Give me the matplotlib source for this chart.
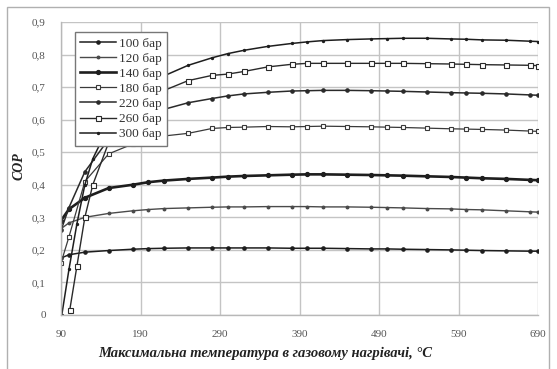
import matplotlib
matplotlib.use("Agg")
import matplotlib.pyplot as plt
from matplotlib.patches import Rectangle

T_main = [90, 100, 120, 150, 180, 200, 220, 250, 280, 300, 320, 350, 380, 400,
          420, 450, 480, 500, 520, 550, 580, 600, 620, 650, 680, 690]

cop_100 = [0.175, 0.185, 0.193, 0.198, 0.202, 0.204, 0.205, 0.206, 0.206, 0.206,
           0.206, 0.206, 0.205, 0.205, 0.205, 0.204, 0.203, 0.203, 0.202, 0.201,
           0.200, 0.199, 0.198, 0.197, 0.196, 0.196]
cop_120 = [0.265, 0.283, 0.300, 0.312, 0.320, 0.324, 0.327, 0.329, 0.331, 0.332,
           0.332, 0.333, 0.333, 0.333, 0.332, 0.332, 0.331, 0.330, 0.329, 0.327,
           0.326, 0.324, 0.323, 0.320, 0.317, 0.316]
cop_140 = [0.290, 0.325, 0.360, 0.390, 0.400, 0.408, 0.413, 0.418, 0.422, 0.425,
           0.427, 0.429, 0.431, 0.432, 0.432, 0.431, 0.430, 0.429, 0.428, 0.426,
           0.424, 0.422, 0.420, 0.418, 0.415, 0.414]
cop_180 = [0.160, 0.240, 0.410, 0.495, 0.525, 0.540, 0.550, 0.558, 0.573, 0.576,
           0.577, 0.579, 0.578, 0.579, 0.580, 0.579, 0.578, 0.577, 0.576, 0.574,
           0.572, 0.571, 0.570, 0.568, 0.565, 0.564]
cop_220 = [0.260, 0.330, 0.440, 0.540, 0.590, 0.615, 0.632, 0.652, 0.665, 0.673,
           0.679, 0.684, 0.688, 0.689, 0.690, 0.690, 0.689, 0.688, 0.687, 0.685,
           0.683, 0.682, 0.681, 0.679, 0.676, 0.675]

T_260 = [101, 110, 120, 130, 150, 180, 200, 220, 250, 280, 300, 320, 350, 380,
         400, 420, 450, 480, 500, 520, 550, 580, 600, 620, 650, 680, 690]
cop_260 = [0.015, 0.150, 0.300, 0.400, 0.530, 0.620, 0.660, 0.690, 0.720, 0.736,
           0.740, 0.748, 0.762, 0.770, 0.773, 0.773, 0.773, 0.773, 0.773, 0.773,
           0.772, 0.771, 0.770, 0.769, 0.768, 0.767, 0.766]

T_300 = [91, 100, 110, 120, 130, 150, 180, 200, 220, 250, 280, 300, 320, 350,
         380, 400, 420, 450, 480, 500, 520, 550, 580, 600, 620, 650, 680, 690]
cop_300 = [0.000, 0.140, 0.280, 0.400, 0.480, 0.580, 0.670, 0.710, 0.735, 0.767,
           0.790, 0.803, 0.813, 0.825, 0.834, 0.839, 0.843, 0.846, 0.848, 0.849,
           0.850, 0.850, 0.848, 0.847, 0.845, 0.844, 0.841, 0.840]

labels = ["100 бар", "120 бар", "140 бар", "180 бар", "220 бар", "260 бар", "300 бар"]
x_ticks = [90, 190, 290, 390, 490, 590, 690]
y_ticks = [0, 0.1, 0.2, 0.3, 0.4, 0.5, 0.6, 0.7, 0.8, 0.9]
y_ticklabels = ["0", "0,1", "0,2", "0,3", "0,4", "0,5", "0,6", "0,7", "0,8", "0,9"]

serif = ["Liberation Serif", "DejaVu Serif"]

fig = plt.figure(figsize=(5.57, 3.69), dpi=100)
fig.patch.set_facecolor("white")
# outer frame
fig.patches.append(Rectangle((7 / 557, -0.05), (549 - 7) / 557, 1 - 7 / 369 + 0.05,
                             transform=fig.transFigure, fill=False,
                             edgecolor="#b0b0b0", lw=1.0))

ax = fig.add_axes([61 / 557, 1 - 315 / 369, (538 - 61) / 557, (315 - 22) / 369])

dark = "#1e1e1e"
ax.plot(T_main, cop_100, color=dark, lw=1.1, marker="o", ms=2.3, label=labels[0])
ax.plot(T_main, cop_120, color="#4a4a4a", lw=1.0, marker="o", ms=1.8, label=labels[1])
ax.plot(T_main, cop_140, color=dark, lw=1.9, marker="o", ms=2.8, label=labels[2])
ax.plot(T_main, cop_180, color="#3a3a3a", lw=0.9, marker="s", ms=2.8,
        mfc="white", mec="#3a3a3a", mew=0.8, label=labels[3])
ax.plot(T_main, cop_220, color="#2a2a2a", lw=1.1, marker="o", ms=2.3, label=labels[4])
ax.plot(T_260, cop_260, color="#2a2a2a", lw=1.0, marker="s", ms=3.6,
        mfc="white", mec="#2a2a2a", mew=0.8, label=labels[5])
ax.plot(T_300, cop_300, color=dark, lw=1.1, marker="o", ms=1.4, label=labels[6])

ax.set_xlim(90, 690)
ax.set_ylim(0, 0.9)
ax.set_xticks(x_ticks)
ax.set_xticklabels([str(v) for v in x_ticks])
ax.set_yticks(y_ticks)
ax.set_yticklabels(y_ticklabels)
ax.grid(True, color="#c4c4c4", lw=1.0)
ax.set_axisbelow(True)
for s in ["top", "right"]:
    ax.spines[s].set_visible(False)
for s in ["left", "bottom"]:
    ax.spines[s].set_color("#b8b8b8")
    ax.spines[s].set_linewidth(1.0)
ax.tick_params(length=0, pad=11, labelsize=8, labelcolor="#555555")
for lab in ax.get_xticklabels() + ax.get_yticklabels():
    lab.set_family(serif)

fig.text(19 / 557, 1 - 166 / 369, "COP", family=serif, style="italic", weight="bold",
         fontsize=10, rotation=90, ha="center", va="center", color="#222222")
fig.text(265 / 557, 1 - 353 / 369, "Максимальна температура в газовому нагрівачі, °C",
         family=serif, style="italic", weight="bold", fontsize=10.5,
         ha="center", va="center", color="#222222")

leg = ax.legend(loc="upper left", bbox_to_anchor=((75 - 61) / 477, (315 - 32) / 293),
                borderaxespad=0, frameon=True, fancybox=False,
                prop={"family": serif, "size": 9.5}, handlelength=2.7,
                handletextpad=0.2, labelspacing=0.22, borderpad=0.4)
leg.get_frame().set_edgecolor("#777777")
leg.get_frame().set_linewidth(1.0)
leg.get_frame().set_alpha(1.0)
for t in leg.get_texts():
    t.set_color("#333333")

fig.savefig("out.png", dpi=100)
